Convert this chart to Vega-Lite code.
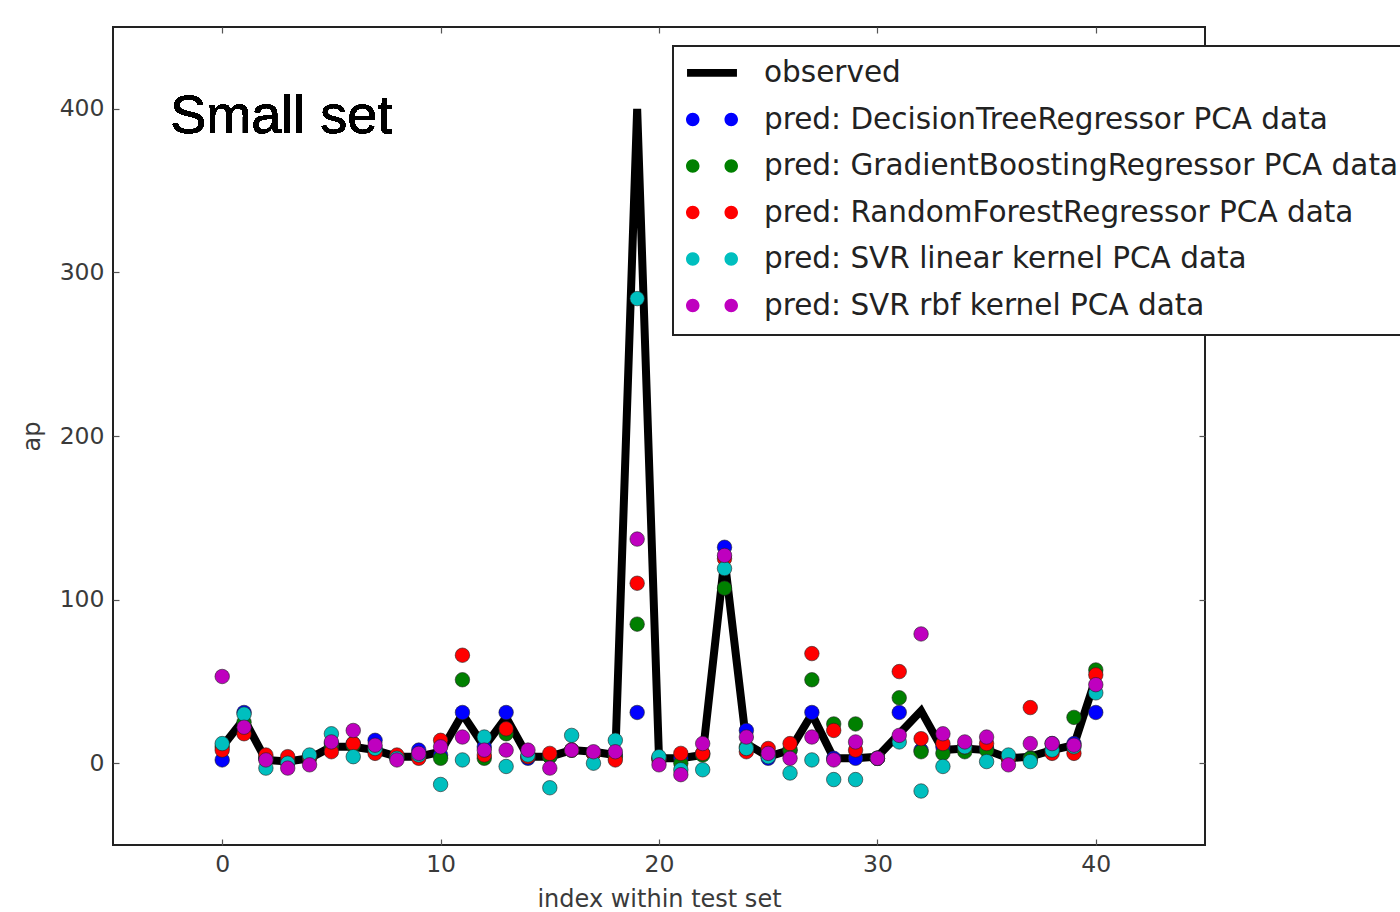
{
  "$schema": "https://vega.github.io/schema/vega-lite/v6.json",
  "width": 1092,
  "height": 818,
  "autosize": "none",
  "padding": {"left": 113, "top": 27, "right": 195, "bottom": 67},
  "background": "white",
  "config": {
    "view": {"stroke": "#222222", "strokeWidth": 2},
    "axis": {
      "grid": false,
      "domain": false,
      "tickColor": "#555555",
      "tickSize": -6,
      "tickWidth": 1.2,
      "labelFont": "DejaVu Sans",
      "labelFontSize": 23.5,
      "labelColor": "#3a3a3a",
      "titleFont": "DejaVu Sans",
      "titleFontSize": 24,
      "titleFontWeight": "normal",
      "titleColor": "#3a3a3a"
    },
    "legend": {
      "labelFont": "DejaVu Sans",
      "labelFontSize": 29.5,
      "labelColor": "#222222",
      "labelLimit": 1000,
      "strokeColor": "#222222",
      "strokeWidth": 2,
      "fillColor": "white"
    }
  },
  "data": {
    "values": [
      {"i":0,"observed":10,"pred: DecisionTreeRegressor PCA data":2,"pred: GradientBoostingRegressor PCA data":10,"pred: RandomForestRegressor PCA data":8,"pred: SVR linear kernel PCA data":12,"pred: SVR rbf kernel PCA data":53},
      {"i":1,"observed":27,"pred: DecisionTreeRegressor PCA data":31,"pred: GradientBoostingRegressor PCA data":25,"pred: RandomForestRegressor PCA data":18,"pred: SVR linear kernel PCA data":30,"pred: SVR rbf kernel PCA data":22},
      {"i":2,"observed":2,"pred: DecisionTreeRegressor PCA data":3,"pred: GradientBoostingRegressor PCA data":3,"pred: RandomForestRegressor PCA data":5,"pred: SVR linear kernel PCA data":-3,"pred: SVR rbf kernel PCA data":2},
      {"i":3,"observed":1,"pred: DecisionTreeRegressor PCA data":1,"pred: GradientBoostingRegressor PCA data":2,"pred: RandomForestRegressor PCA data":4,"pred: SVR linear kernel PCA data":0,"pred: SVR rbf kernel PCA data":-3},
      {"i":4,"observed":3,"pred: DecisionTreeRegressor PCA data":4,"pred: GradientBoostingRegressor PCA data":3,"pred: RandomForestRegressor PCA data":4,"pred: SVR linear kernel PCA data":5,"pred: SVR rbf kernel PCA data":-1},
      {"i":5,"observed":10,"pred: DecisionTreeRegressor PCA data":12,"pred: GradientBoostingRegressor PCA data":10,"pred: RandomForestRegressor PCA data":7,"pred: SVR linear kernel PCA data":18,"pred: SVR rbf kernel PCA data":13},
      {"i":6,"observed":10,"pred: DecisionTreeRegressor PCA data":12,"pred: GradientBoostingRegressor PCA data":11,"pred: RandomForestRegressor PCA data":12,"pred: SVR linear kernel PCA data":4,"pred: SVR rbf kernel PCA data":20},
      {"i":7,"observed":8,"pred: DecisionTreeRegressor PCA data":14,"pred: GradientBoostingRegressor PCA data":8,"pred: RandomForestRegressor PCA data":6,"pred: SVR linear kernel PCA data":9,"pred: SVR rbf kernel PCA data":11},
      {"i":8,"observed":4,"pred: DecisionTreeRegressor PCA data":4,"pred: GradientBoostingRegressor PCA data":4,"pred: RandomForestRegressor PCA data":5,"pred: SVR linear kernel PCA data":3,"pred: SVR rbf kernel PCA data":2},
      {"i":9,"observed":4,"pred: DecisionTreeRegressor PCA data":8,"pred: GradientBoostingRegressor PCA data":4,"pred: RandomForestRegressor PCA data":3,"pred: SVR linear kernel PCA data":5,"pred: SVR rbf kernel PCA data":6},
      {"i":10,"observed":7,"pred: DecisionTreeRegressor PCA data":5,"pred: GradientBoostingRegressor PCA data":3,"pred: RandomForestRegressor PCA data":14,"pred: SVR linear kernel PCA data":-13,"pred: SVR rbf kernel PCA data":10},
      {"i":11,"observed":30,"pred: DecisionTreeRegressor PCA data":31,"pred: GradientBoostingRegressor PCA data":51,"pred: RandomForestRegressor PCA data":66,"pred: SVR linear kernel PCA data":2,"pred: SVR rbf kernel PCA data":16},
      {"i":12,"observed":10,"pred: DecisionTreeRegressor PCA data":10,"pred: GradientBoostingRegressor PCA data":3,"pred: RandomForestRegressor PCA data":5,"pred: SVR linear kernel PCA data":16,"pred: SVR rbf kernel PCA data":8},
      {"i":13,"observed":28,"pred: DecisionTreeRegressor PCA data":31,"pred: GradientBoostingRegressor PCA data":18,"pred: RandomForestRegressor PCA data":21,"pred: SVR linear kernel PCA data":-2,"pred: SVR rbf kernel PCA data":8},
      {"i":14,"observed":4,"pred: DecisionTreeRegressor PCA data":3,"pred: GradientBoostingRegressor PCA data":4,"pred: RandomForestRegressor PCA data":4,"pred: SVR linear kernel PCA data":5,"pred: SVR rbf kernel PCA data":8},
      {"i":15,"observed":4,"pred: DecisionTreeRegressor PCA data":4,"pred: GradientBoostingRegressor PCA data":4,"pred: RandomForestRegressor PCA data":6,"pred: SVR linear kernel PCA data":-15,"pred: SVR rbf kernel PCA data":-3},
      {"i":16,"observed":8,"pred: DecisionTreeRegressor PCA data":8,"pred: GradientBoostingRegressor PCA data":8,"pred: RandomForestRegressor PCA data":8,"pred: SVR linear kernel PCA data":17,"pred: SVR rbf kernel PCA data":8},
      {"i":17,"observed":7,"pred: DecisionTreeRegressor PCA data":6,"pred: GradientBoostingRegressor PCA data":6,"pred: RandomForestRegressor PCA data":6,"pred: SVR linear kernel PCA data":0,"pred: SVR rbf kernel PCA data":7},
      {"i":18,"observed":5,"pred: DecisionTreeRegressor PCA data":5,"pred: GradientBoostingRegressor PCA data":4,"pred: RandomForestRegressor PCA data":2,"pred: SVR linear kernel PCA data":14,"pred: SVR rbf kernel PCA data":7},
      {"i":19,"observed":400,"pred: DecisionTreeRegressor PCA data":31,"pred: GradientBoostingRegressor PCA data":85,"pred: RandomForestRegressor PCA data":110,"pred: SVR linear kernel PCA data":284,"pred: SVR rbf kernel PCA data":137},
      {"i":20,"observed":3,"pred: DecisionTreeRegressor PCA data":3,"pred: GradientBoostingRegressor PCA data":2,"pred: RandomForestRegressor PCA data":3,"pred: SVR linear kernel PCA data":4,"pred: SVR rbf kernel PCA data":-1},
      {"i":21,"observed":3,"pred: DecisionTreeRegressor PCA data":3,"pred: GradientBoostingRegressor PCA data":0,"pred: RandomForestRegressor PCA data":6,"pred: SVR linear kernel PCA data":-4,"pred: SVR rbf kernel PCA data":-7},
      {"i":22,"observed":5,"pred: DecisionTreeRegressor PCA data":6,"pred: GradientBoostingRegressor PCA data":5,"pred: RandomForestRegressor PCA data":6,"pred: SVR linear kernel PCA data":-4,"pred: SVR rbf kernel PCA data":12},
      {"i":23,"observed":125,"pred: DecisionTreeRegressor PCA data":132,"pred: GradientBoostingRegressor PCA data":107,"pred: RandomForestRegressor PCA data":125,"pred: SVR linear kernel PCA data":119,"pred: SVR rbf kernel PCA data":127},
      {"i":24,"observed":12,"pred: DecisionTreeRegressor PCA data":20,"pred: GradientBoostingRegressor PCA data":10,"pred: RandomForestRegressor PCA data":7,"pred: SVR linear kernel PCA data":9,"pred: SVR rbf kernel PCA data":16},
      {"i":25,"observed":4,"pred: DecisionTreeRegressor PCA data":3,"pred: GradientBoostingRegressor PCA data":5,"pred: RandomForestRegressor PCA data":9,"pred: SVR linear kernel PCA data":4,"pred: SVR rbf kernel PCA data":6},
      {"i":26,"observed":8,"pred: DecisionTreeRegressor PCA data":8,"pred: GradientBoostingRegressor PCA data":8,"pred: RandomForestRegressor PCA data":12,"pred: SVR linear kernel PCA data":-6,"pred: SVR rbf kernel PCA data":3},
      {"i":27,"observed":30,"pred: DecisionTreeRegressor PCA data":31,"pred: GradientBoostingRegressor PCA data":51,"pred: RandomForestRegressor PCA data":67,"pred: SVR linear kernel PCA data":2,"pred: SVR rbf kernel PCA data":16},
      {"i":28,"observed":3,"pred: DecisionTreeRegressor PCA data":3,"pred: GradientBoostingRegressor PCA data":24,"pred: RandomForestRegressor PCA data":20,"pred: SVR linear kernel PCA data":-10,"pred: SVR rbf kernel PCA data":2},
      {"i":29,"observed":3,"pred: DecisionTreeRegressor PCA data":3,"pred: GradientBoostingRegressor PCA data":24,"pred: RandomForestRegressor PCA data":8,"pred: SVR linear kernel PCA data":-10,"pred: SVR rbf kernel PCA data":13},
      {"i":30,"observed":4,"pred: DecisionTreeRegressor PCA data":3,"pred: GradientBoostingRegressor PCA data":3,"pred: RandomForestRegressor PCA data":3,"pred: SVR linear kernel PCA data":3,"pred: SVR rbf kernel PCA data":3},
      {"i":31,"observed":18,"pred: DecisionTreeRegressor PCA data":31,"pred: GradientBoostingRegressor PCA data":40,"pred: RandomForestRegressor PCA data":56,"pred: SVR linear kernel PCA data":13,"pred: SVR rbf kernel PCA data":17},
      {"i":32,"observed":32,"pred: DecisionTreeRegressor PCA data":8,"pred: GradientBoostingRegressor PCA data":7,"pred: RandomForestRegressor PCA data":15,"pred: SVR linear kernel PCA data":-17,"pred: SVR rbf kernel PCA data":79},
      {"i":33,"observed":8,"pred: DecisionTreeRegressor PCA data":10,"pred: GradientBoostingRegressor PCA data":6,"pred: RandomForestRegressor PCA data":12,"pred: SVR linear kernel PCA data":-2,"pred: SVR rbf kernel PCA data":18},
      {"i":34,"observed":9,"pred: DecisionTreeRegressor PCA data":10,"pred: GradientBoostingRegressor PCA data":7,"pred: RandomForestRegressor PCA data":10,"pred: SVR linear kernel PCA data":10,"pred: SVR rbf kernel PCA data":13},
      {"i":35,"observed":8,"pred: DecisionTreeRegressor PCA data":9,"pred: GradientBoostingRegressor PCA data":8,"pred: RandomForestRegressor PCA data":12,"pred: SVR linear kernel PCA data":1,"pred: SVR rbf kernel PCA data":16},
      {"i":36,"observed":3,"pred: DecisionTreeRegressor PCA data":3,"pred: GradientBoostingRegressor PCA data":3,"pred: RandomForestRegressor PCA data":3,"pred: SVR linear kernel PCA data":5,"pred: SVR rbf kernel PCA data":-1},
      {"i":37,"observed":4,"pred: DecisionTreeRegressor PCA data":3,"pred: GradientBoostingRegressor PCA data":3,"pred: RandomForestRegressor PCA data":34,"pred: SVR linear kernel PCA data":1,"pred: SVR rbf kernel PCA data":12},
      {"i":38,"observed":8,"pred: DecisionTreeRegressor PCA data":12,"pred: GradientBoostingRegressor PCA data":8,"pred: RandomForestRegressor PCA data":6,"pred: SVR linear kernel PCA data":8,"pred: SVR rbf kernel PCA data":12},
      {"i":39,"observed":11,"pred: DecisionTreeRegressor PCA data":12,"pred: GradientBoostingRegressor PCA data":28,"pred: RandomForestRegressor PCA data":6,"pred: SVR linear kernel PCA data":10,"pred: SVR rbf kernel PCA data":11},
      {"i":40,"observed":52,"pred: DecisionTreeRegressor PCA data":31,"pred: GradientBoostingRegressor PCA data":57,"pred: RandomForestRegressor PCA data":54,"pred: SVR linear kernel PCA data":43,"pred: SVR rbf kernel PCA data":48}
    ]
  },
  "resolve": {"axis": {"x": "independent", "y": "independent"}},
  "layer": [
    {
      "mark": {"type": "line", "strokeWidth": 8, "strokeJoin": "miter", "strokeCap": "butt"},
      "encoding": {
        "x": {"field": "i", "type": "quantitative", "scale": {"domain": [-5, 45], "nice": false, "zero": false},
              "axis": {"values": [0, 10, 20, 30, 40], "title": "index within test set", "labelPadding": 13, "titlePadding": 12}},
        "y": {"field": "observed", "type": "quantitative", "scale": {"domain": [-50, 450], "nice": false, "zero": false},
              "axis": {"values": [0, 100, 200, 300, 400], "title": "ap", "labelPadding": 15, "titlePadding": 15}},
        "color": {"datum": "observed", "type": "nominal", "title": null,
          "scale": {"domain": ["observed", "pred: DecisionTreeRegressor PCA data", "pred: GradientBoostingRegressor PCA data", "pred: RandomForestRegressor PCA data", "pred: SVR linear kernel PCA data", "pred: SVR rbf kernel PCA data"],
                    "range": ["#000000", "#0000ff", "#008000", "#ff0000", "#00bfbf", "#bf00bf"]},
          "legend": {
            "title": null,
            "orient": "none",
            "legendX": 560,
            "legendY": 19,
            "padding": 7,
            "symbolOffset": 6,
            "symbolSize": 2704,
            "clipHeight": 42,
            "rowPadding": 4.5,
            "labelOffset": 26,
            "encode": {
              "symbols": {
                "update": {
                  "shape": {"signal": "datum.value === 'observed' ? 'M-0.96,-0.19L0.96,-0.19L0.96,0.11L-0.96,0.11Z' : 'M-1,-0.04A0.26,0.26 0 1,1 -0.48,-0.04A0.26,0.26 0 1,1 -1,-0.04ZM0.48,-0.04A0.26,0.26 0 1,1 1,-0.04A0.26,0.26 0 1,1 0.48,-0.04Z'"},
                  "fill": {"scale": "color", "field": "value"},
                  "stroke": {"value": "transparent"},
                  "strokeWidth": {"value": 0},
                  "opacity": {"value": 1},
                  "fillOpacity": {"value": 1}
                }
              },
              "labels": {
                "update": {
                  "dy": {"value": -1}
                }
              }
            }
          }
        }
      }
    },
    {
      "transform": [
        {"fold": ["pred: DecisionTreeRegressor PCA data", "pred: GradientBoostingRegressor PCA data", "pred: RandomForestRegressor PCA data", "pred: SVR linear kernel PCA data", "pred: SVR rbf kernel PCA data"], "as": ["model", "pred"]}
      ],
      "mark": {"type": "point", "shape": "circle", "filled": true, "size": 210, "stroke": "#222222", "strokeWidth": 0.6, "opacity": 1},
      "encoding": {
        "x": {"field": "i", "type": "quantitative", "axis": {"orient": "top", "values": [0, 10, 20, 30, 40], "labels": false, "title": null}},
        "y": {"field": "pred", "type": "quantitative", "axis": {"orient": "right", "values": [0, 100, 200, 300, 400], "labels": false, "title": null}},
        "color": {"field": "model", "type": "nominal", "title": null},
        "order": {"field": "model", "type": "ordinal"}
      }
    },
    {
      "mark": {"type": "text", "text": "Small set", "font": "Liberation Sans", "fontSize": 54, "align": "left", "baseline": "alphabetic", "color": "black"},
      "encoding": {
        "x": {"datum": -2.38, "type": "quantitative", "axis": null},
        "y": {"datum": 385, "type": "quantitative", "axis": null}
      }
    }
  ]
}
